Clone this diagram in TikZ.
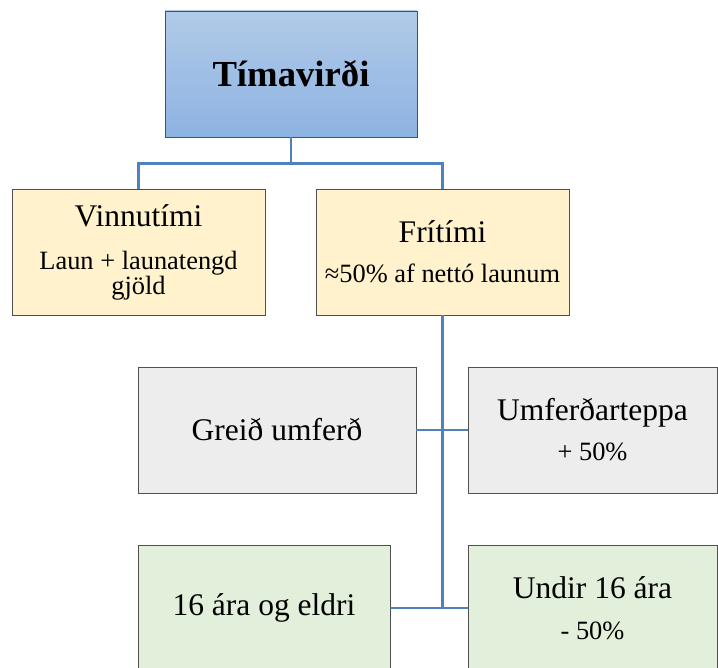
\documentclass[tikz,border=0pt]{standalone}
\usepackage{fontspec}
\setmainfont{Liberation Serif}
\definecolor{boxline}{HTML}{505050}
\definecolor{linkblue}{HTML}{4F81BD}
\definecolor{topblue}{HTML}{B1CAE8}
\definecolor{lowblue}{HTML}{8DB3E2}
\definecolor{workfill}{HTML}{FFF2CC}
\definecolor{roadfill}{HTML}{EDEDED}
\definecolor{agefill}{HTML}{E2EFDA}
\newcommand{\headfont}{\fontsize{31.5}{25}\selectfont}
\newcommand{\subfont}{\fontsize{26.4}{25}\selectfont}
\begin{document}
\begin{tikzpicture}[x=1pt, y=-1pt,
    card/.style={draw=boxline, line width=0.8pt, rectangle, minimum height=126pt, align=center, inner sep=0pt, font=\subfont},
    link/.style={draw=linkblue, line width=2.4pt}]
    \useasboundingbox (0, 0) rectangle (718, 668);

    % Root
    \node[card, minimum width=252pt, top color=topblue, bottom color=lowblue, font=\fontsize{36.7}{40}\selectfont\bfseries] (root) at (291, 74) {Tímavirði};

    % Work and free time
    \node[card, minimum width=253pt, fill=workfill] (work) at (138.5, 252) {{\headfont Vinnutími}\\[18pt] Laun + launatengd\\ gjöld};
    \node[card, minimum width=253pt, fill=workfill] (free) at (442.5, 252) {{\headfont Frítími}\\[15pt] ≈50\% af nettó launum};

    % Traffic
    \node[card, minimum width=278pt, fill=roadfill] (clear) at (277, 430) {\headfont Greið umferð};
    \node[card, minimum width=249pt, fill=roadfill] (jam) at (592.5, 430) {{\headfont Umferðarteppa}\\[15pt] + 50\%};

    % Age
    \node[card, minimum width=252pt, fill=agefill] (adult) at (264, 608) {\headfont 16 ára og eldri};
    \node[card, minimum width=249pt, fill=agefill] (child) at (592.5, 608) {{\headfont Undir 16 ára}\\[16pt] - 50\%};

    % Links
    \draw[link] (root.south) -- ++(0, 26) -| (work.north);
    \draw[link] (root.south) -- ++(0, 26) -| (free.north);
    \draw[link] (free.south) |- (adult.east) -- (child.west);
    \draw[link] (clear.east) -- (jam.west);
\end{tikzpicture}
\end{document}
